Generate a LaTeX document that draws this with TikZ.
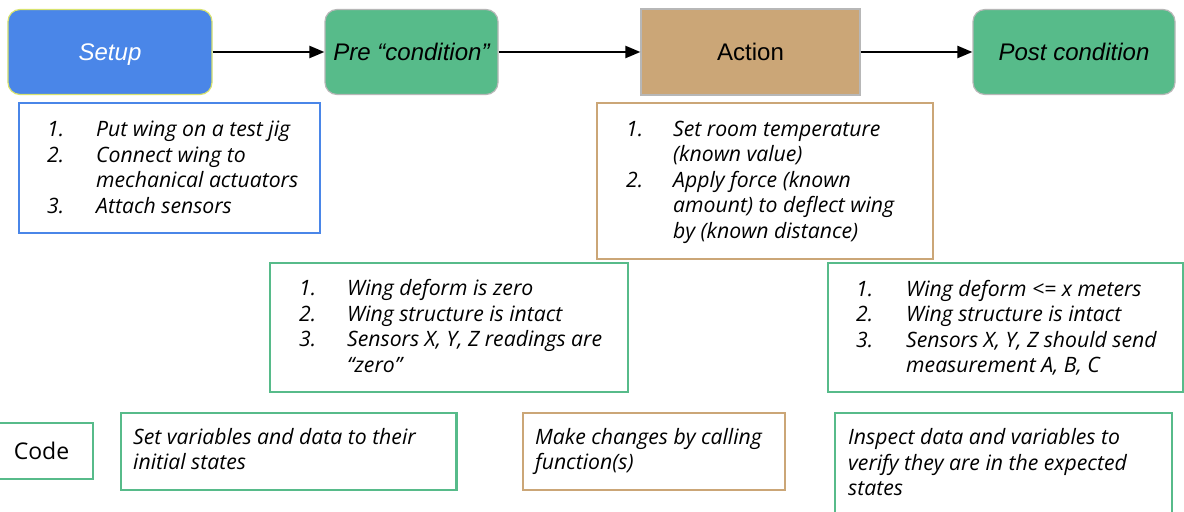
\documentclass[tikz,border=0pt]{standalone}
\usepackage{fontspec}
\setmainfont{Open Sans}
\newfontfamily\arialf{Liberation Sans}
\usetikzlibrary{arrows.meta}
\definecolor{gblue}{HTML}{4A86E8}
\definecolor{ggreen}{HTML}{57BB8A}
\definecolor{gtan}{HTML}{CBA677}
\definecolor{setupedge}{HTML}{D8E36E}
\definecolor{grayedge}{HTML}{B7B7B7}
\newcommand\listfont{\fontsize{21.2bp}{25.5bp}\selectfont\itshape}
\newcommand\topfont{\arialf\fontsize{24bp}{28bp}\selectfont}
\begin{document}
\begin{tikzpicture}[x=1bp,y=-1bp,
  topbox/.style={line width=1.2bp, inner sep=0pt, font=\topfont, text height=17.2bp, text depth=0pt},
  listbox/.style={line width=2.2bp, inner sep=0pt, fill=white},
  listtext/.style={anchor=base west, inner sep=0pt, font=\listfont},
  flow/.style={line width=2.2bp, -{Triangle[length=15bp,width=12bp]}}]
\clip (0,0) rectangle (1184,512);
\fill[white] (0,0) rectangle (1184,512);

% top row
\node[topbox, fill=gblue, draw=setupedge, rounded corners=12bp,
  minimum width=204bp, minimum height=85bp, text=white] (setup) at (110,52) {\itshape Setup};
\node[topbox, fill=ggreen, draw=grayedge, rounded corners=12bp,
  minimum width=173bp, minimum height=85bp] (pre) at (411.5,52) {\itshape Pre “condition”};
\node[topbox, fill=gtan, draw=grayedge,
  minimum width=219bp, minimum height=86bp] (action) at (750.5,52) {Action};
\node[topbox, fill=ggreen, draw=grayedge, rounded corners=12bp,
  minimum width=202bp, minimum height=85bp] (post) at (1074,52) {\itshape Post condition};

\draw[flow] (setup) -- (pre);
\draw[flow] (pre) -- (action);
\draw[flow] (action) -- (post);

% list boxes
\node[listbox, draw=gblue, minimum width=301bp, minimum height=130bp] (setupbox) at (169.5,168) {};
\node[listtext] (setuptxt) at (47,137) {\begin{tabular}[t]{@{}p{49bp}@{}l@{}}1.&Put wing on a test jig\\2.&Connect wing to\\&mechanical actuators\\3.&Attach sensors\end{tabular}};

\node[listbox, draw=gtan, minimum width=336bp, minimum height=156bp] (actionbox) at (765,181) {};
\node[listtext] (actiontxt) at (626,136.5) {\begin{tabular}[t]{@{}p{47bp}@{}l@{}}1.&Set room temperature\\&(known value)\\2.&Apply force (known\\&amount) to deflect wing\\&by (known distance)\end{tabular}};

\node[listbox, draw=ggreen, minimum width=358bp, minimum height=129bp] (prebox) at (449,327.5) {};
\node[listtext] (pretxt) at (299,296) {\begin{tabular}[t]{@{}p{48bp}@{}l@{}}1.&Wing deform is zero\\2.&Wing structure is intact\\3.&Sensors X, Y, Z readings are\\&“zero”\end{tabular}};

\node[listbox, draw=ggreen, minimum width=355bp, minimum height=129bp] (postbox) at (1005.5,327.5) {};
\node[listtext] (posttxt) at (856,296.5) {\begin{tabular}[t]{@{}p{50bp}@{}l@{}}1.&Wing deform <= x meters\\2.&Wing structure is intact\\3.&Sensors X, Y, Z should send\\&measurement A, B, C\end{tabular}};

% bottom row
\node[listbox, draw=ggreen, minimum width=103bp, minimum height=56bp,
  font=\fontsize{23bp}{27bp}\selectfont] (code) at (41.5,451) {Code};
\node[listbox, draw=ggreen, minimum width=335.5bp, minimum height=77.3bp] (setcode) at (288.75,451.35) {};
\node[listtext] (setcodetxt) at (133,444) {\begin{tabular}[t]{@{}l@{}}Set variables and data to their\\initial states\end{tabular}};
\node[listbox, draw=gtan, minimum width=262bp, minimum height=77.3bp] (makecode) at (654,451.35) {};
\node[listtext] (makecodetxt) at (535,444) {\begin{tabular}[t]{@{}l@{}}Make changes by calling\\function(s)\end{tabular}};
\node[listbox, draw=ggreen, minimum width=336.7bp, minimum height=117.3bp] (inspcode) at (1003.35,471.35) {};
\node[listtext] (inspcodetxt) at (848,444.5) {\begin{tabular}[t]{@{}l@{}}Inspect data and variables to\\verify they are in the expected\\states\end{tabular}};
\end{tikzpicture}
\end{document}
